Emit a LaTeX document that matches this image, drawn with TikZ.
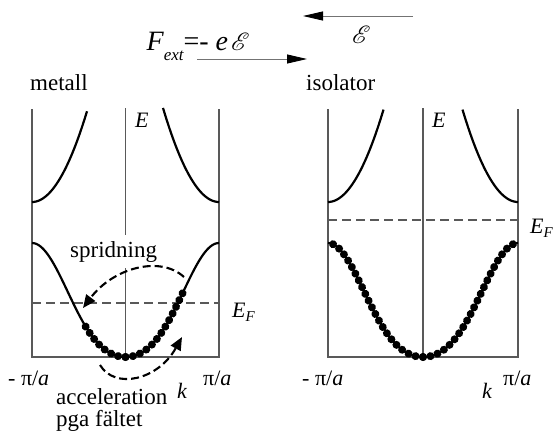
\documentclass[tikz,border=0pt]{standalone}
\usepackage{fontspec}
\setmainfont{Liberation Serif}
\usepackage{mathrsfs}
\usetikzlibrary{arrows.meta,decorations.markings}
\begin{document}
\begin{tikzpicture}[x=1pt,y=-1pt,
 frame/.style={draw=black!65,line width=1.4pt},
 band/.style={draw=black,line width=2.2pt},
 fermi/.style={draw=black!65,line width=1.3pt,dash pattern=on 9pt off 5pt},
 flow/.style={draw=black,line width=2.1pt,dash pattern=on 8pt off 4pt,-{Triangle[length=13pt,width=11pt]}},
 field/.style={draw=black!55,line width=0.9pt,-{Triangle[length=20pt,width=9pt,color=black]}},
 electrons/.style={postaction={decorate},decoration={markings,mark=between positions 0 and 1 step 7.5pt with {\fill[black] (0,0) circle (4pt);}}},
 word/.style={font=\fontsize{23}{23}\selectfont,inner sep=0pt,anchor=base west},
 sym/.style={font=\fontsize{22}{22}\selectfont,inner sep=0pt,anchor=base west},
 declare function={sv(\xx,\cc,\hh)=(1-cos((\xx-\cc)*(180/\hh)))/2; lb(\xx,\cc,\hh)=357-57*sv(\xx,\cc,\hh)*(1+sv(\xx,\cc,\hh)); ub(\xx,\bb)=202-0.030*(\xx-\bb)*(\xx-\bb);}
]
\useasboundingbox (0,0) rectangle (554,432);

% ---------- top: force and field ----------
\node[inner sep=0pt,anchor=base west] (force) at (146.5,50)
  {\fontsize{28}{28}\selectfont\itshape F\raisebox{-10pt}{\fontsize{17}{17}\selectfont ext}\upshape =- \itshape e\hspace{3pt}$\mathscr{E}$};
\node[inner sep=0pt,anchor=base west] (fieldlbl) at (352,43) {\fontsize{28}{28}\selectfont$\mathscr{E}$};
\coordinate (fA) at (197,59);
\coordinate (fB) at (307,59);
\draw[field] (fA) -- (fB);
\coordinate (eA) at (413,16);
\coordinate (eB) at (303,16);
\draw[field] (eA) -- (eB);

\node[word] (metall) at (30,90.7) {metall};
\node[word] (isolator) at (306,90.7) {isolator};

% ---------- left panel: metal ----------
\draw[frame] (32,109) -- (32,357) -- (219,357) -- (219,109);
\draw[frame] (125.5,108) -- (125.5,235);
\draw[frame] (125.5,268) -- (125.5,357);
\draw[fermi] (32,303) -- (219,303);
\draw[band] plot[domain=32:87,samples=40,smooth] (\x,{ub(\x,32)});
\draw[band] plot[domain=163:219,samples=40,smooth] (\x,{ub(\x,219)});
\draw[band] plot[domain=32:219,samples=90,smooth] (\x,{lb(\x,125.5,93.5)});
\path[electrons] plot[domain=0:43.5,samples=60] ({125.5-\x},{lb(125.5-\x,125.5,93.5)});
\path[electrons] plot[domain=0:58,samples=60] ({125.5+\x},{lb(125.5+\x,125.5,93.5)});

\node[sym] (Eleft) at (135,127) {\itshape E};
\node[sym] (EFleft) at (232,317) {\itshape E\raisebox{-4pt}{\fontsize{15}{15}\selectfont F}};
\node[word] (spridning) at (70,257) {spridning};
\node[sym] (kminL) at (8,385) {- π/\textit{a}};
\node[sym] (kmaxL) at (203,385) {π/\textit{a}};
\node[sym] (kL) at (177,398) {\itshape k};
\node[word] (acc) at (56,404) {acceleration};
\node[word] (pga) at (56,426) {pga fältet};

\coordinate (sprA) at (184,277);
\coordinate (sprB) at (83,308);
\draw[flow] (sprA) .. controls (160,255) and (113,268) .. (sprB);
\coordinate (accA) at (100,365);
\coordinate (accB) at (182,337);
\draw[flow] (accA) .. controls (115,390) and (158,380) .. (accB);

% ---------- right panel: insulator ----------
\draw[frame] (328,109) -- (328,357) -- (518,357) -- (518,109);
\draw[frame] (423,108) -- (423,357);
\draw[fermi] (328,220) -- (518,220);
\draw[band] plot[domain=328:383.5,samples=40,smooth] (\x,{ub(\x,328)});
\draw[band] plot[domain=462.5:518,samples=40,smooth] (\x,{ub(\x,518)});
\draw[band] plot[domain=328:518,samples=90,smooth] (\x,{lb(\x,423,95)});
\path[electrons] plot[domain=0:90,samples=70] ({423-\x},{lb(423-\x,423,95)});
\path[electrons] plot[domain=0:90,samples=70] ({423+\x},{lb(423+\x,423,95)});

\node[sym] (Eright) at (432,127) {\itshape E};
\node[sym] (EFright) at (530,233) {\itshape E\raisebox{-4pt}{\fontsize{15}{15}\selectfont F}};
\node[sym] (kminR) at (302,385) {- π/\textit{a}};
\node[sym] (kmaxR) at (503,385) {π/\textit{a}};
\node[sym] (kR) at (482,398) {\itshape k};
\end{tikzpicture}
\end{document}
